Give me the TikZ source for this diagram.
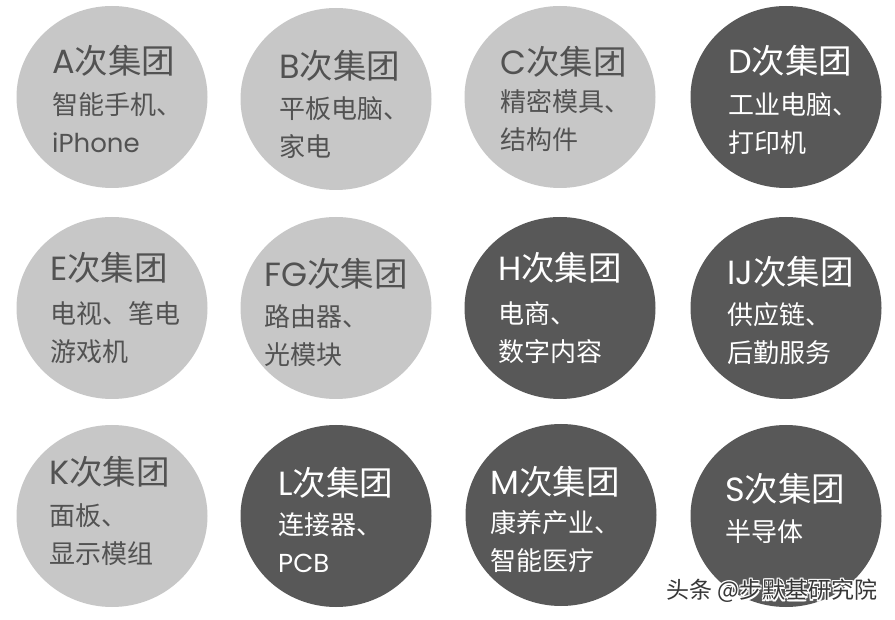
\documentclass[tikz,border=0pt]{standalone}
\usepackage{fontspec}
\newfontfamily\cjk{Noto Sans CJK SC}
\newfontfamily\lat{Poppins}
\definecolor{palegray}{RGB}{199,199,199}
\definecolor{deepgray}{RGB}{88,88,88}
\definecolor{inkgray}{RGB}{82,82,82}
\definecolor{stampgray}{RGB}{55,55,55}

\begin{document}
\begin{tikzpicture}[x=1pt,y=-1pt,
	pale/.style={fill=palegray},
	deep/.style={fill=deepgray},
	head/.style={anchor=west,inner sep=0pt,font=\cjk\fontsize{33.5}{33.5}\selectfont},
	body/.style={anchor=west,inner sep=0pt,align=left,font=\cjk\fontsize{26}{38}\selectfont},
	onpale/.style={text=inkgray},
	ondeep/.style={text=white},
	stamp/.style={inner sep=0pt,font=\cjk\fontsize{23}{23}\selectfont}]
\fill[white] (0,0) rectangle (895,620);
\useasboundingbox (0,0) rectangle (895,620);
% row 1
\fill[pale] (112,97) ellipse [x radius=95.5pt, y radius=91pt];
\fill[pale] (336,99) ellipse [x radius=95.5pt, y radius=91pt];
\fill[pale] (560,97) ellipse [x radius=95.5pt, y radius=91pt];
\fill[deep] (786,97) ellipse [x radius=95.5pt, y radius=91pt];
% row 2
\fill[pale] (112,308) ellipse [x radius=95.5pt, y radius=91pt];
\fill[pale] (336,308) ellipse [x radius=95.5pt, y radius=91pt];
\fill[deep] (560,308) ellipse [x radius=95.5pt, y radius=91pt];
\fill[deep] (786,308) ellipse [x radius=95.5pt, y radius=91pt];
% row 3
\fill[pale] (112,516) ellipse [x radius=95.5pt, y radius=91pt];
\fill[deep] (336,516) ellipse [x radius=95.5pt, y radius=91pt];
\fill[deep] (561,515) ellipse [x radius=95.5pt, y radius=91pt];
\fill[deep] (786,516) ellipse [x radius=95.5pt, y radius=91pt];

\node[head,onpale] (A) at (52,61) {{\lat A}次集团};
\node[body,onpale] (Aitems) at (52,123) {智能手机、\\{\lat iPhone}};
\node[head,onpale] (B) at (279,66) {{\lat B}次集团};
\node[body,onpale] (Bitems) at (279,128) {平板电脑、\\家电};
\node[head,onpale] (C) at (500,62) {{\lat C}次集团};
\node[body,onpale] (Citems) at (500,121) {精密模具、\\结构件};
\node[head,ondeep] (D) at (728,61) {{\lat D}次集团};
\node[body,ondeep] (Ditems) at (728,124) {工业电脑、\\打印机};

\node[head,onpale] (E) at (50,268) {{\lat E}次集团};
\node[body,onpale] (Eitems) at (50,333) {电视、笔电\\游戏机};
\node[head,onpale] (FG) at (264,274) {{\lat FG}次集团};
\node[body,onpale] (FGitems) at (264,336) {路由器、\\光模块};
\node[head,ondeep] (H) at (498,268) {{\lat H}次集团};
\node[body,ondeep] (Hitems) at (498,333) {电商、\\数字内容};
\node[head,ondeep] (IJ) at (727,272) {{\lat IJ}次集团};
\node[body,ondeep] (IJitems) at (727,334) {供应链、\\后勤服务};

\node[head,onpale] (K) at (49,472) {{\lat K}次集团};
\node[body,onpale] (Kitems) at (49,535) {面板、\\显示模组};
\node[head,ondeep] (L) at (278,483) {{\lat L}次集团};
\node[body,ondeep] (Litems) at (278,543) {连接器、\\{\lat PCB}};
\node[head,ondeep] (M) at (490,482) {{\lat M}次集团};
\node[body,ondeep] (Mitems) at (490,541) {康养产业、\\智能医疗};
\node[head,ondeep] (S) at (725,489) {{\lat S}次集团};
\node[body,ondeep] (Sitems) at (725,532) {半导体};

% watermark with white halo
\foreach \dx/\dy [count=\i] in {-1/0,1/0,0/-1,0/1,-1/-1,1/1,-1/1,1/-1}
	\node[stamp,text=white] (halo\i) at (772+1.3*\dx,591+1.3*\dy) {头条 @步默基研究院};
\node[stamp,text=stampgray] (stamp) at (772,591) {头条 @步默基研究院};
\end{tikzpicture}
\end{document}
